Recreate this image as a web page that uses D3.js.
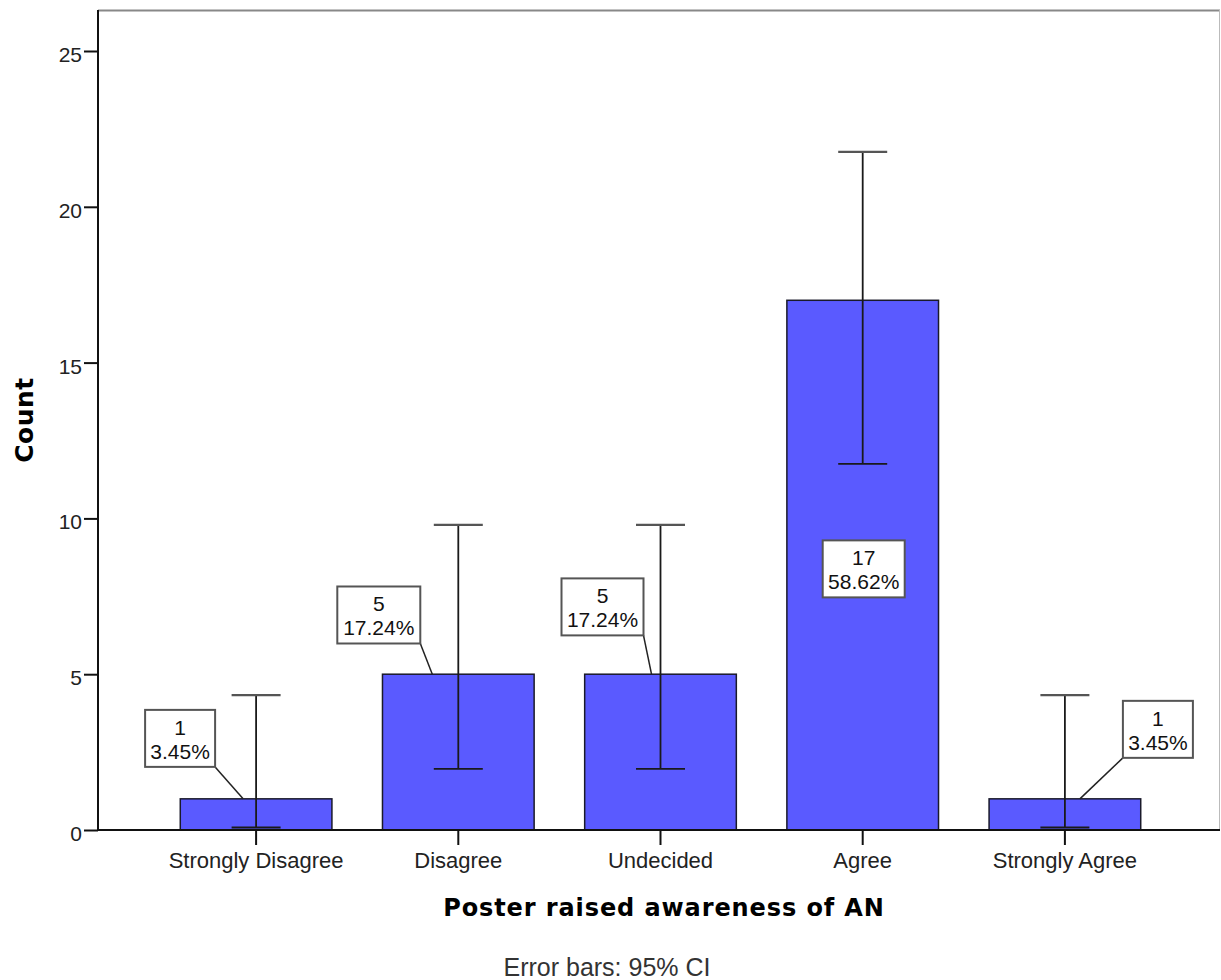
<!DOCTYPE html>
<html>
<head>
<meta charset="utf-8">
<script src="https://cdn.jsdelivr.net/npm/d3@7"></script>
<style>
  html, body { margin: 0; padding: 0; background: #fff; }
  svg { display: block; }
</style>
</head>
<body>
<svg id="chart" width="1221" height="980"></svg>
<script>
// Response categories and counts
const categories = ["Strongly Disagree", "Disagree", "Undecided", "Agree", "Strongly Agree"];
const counts = [1, 5, 5, 17, 1];
const percents = ["3.45%", "17.24%", "17.24%", "58.62%", "3.45%"];
// 95% confidence interval bounds for each count
const ciLower = [0.08, 1.96, 1.96, 11.75, 0.08];
const ciUpper = [4.33, 9.79, 9.79, 21.76, 4.33];
const yTicks = [0, 5, 10, 15, 20, 25];

// Callout placement: box centre offset from bar centre (px), box centre height (count units),
// and where the leader line meets the bar top (px from bar centre; null = no leader)
const labelDx = [-76, -79.5, -58, 1, 93];
const labelY = [2.94, 6.90, 7.16, 8.38, 3.23];
const labelW = [70, 83, 82, 82, 70];
const leaderDx = [-13, -26, -9, null, 15];

const FONT = "Arial, 'Liberation Sans', sans-serif";
const BOLD = "'DejaVu Sans', Verdana, sans-serif";

const svg = d3.select("#chart");

const plot = { left: 98, right: 1220, top: 10, bottom: 830 };

const x = d3.scaleBand()
  .domain(categories)
  .range([155, 1166])
  .paddingInner(0.25)
  .paddingOuter(0.125);

const y = d3.scaleLinear()
  .domain([0, 25])
  .range([plot.bottom, plot.bottom - 25 * 31.16]);

// Frame: top and right borders
svg.append("line")
  .attr("x1", plot.left).attr("x2", plot.right)
  .attr("y1", plot.top + 0.5).attr("y2", plot.top + 0.5)
  .attr("stroke", "#888").attr("stroke-width", 2);
svg.append("line")
  .attr("x1", plot.right - 0.5).attr("x2", plot.right - 0.5)
  .attr("y1", plot.top).attr("y2", plot.bottom)
  .attr("stroke", "#bbb").attr("stroke-width", 1);

// Bars
svg.append("g").selectAll("rect")
  .data(categories)
  .join("rect")
  .attr("x", d => x(d))
  .attr("width", x.bandwidth())
  .attr("y", (d, i) => y(counts[i]))
  .attr("height", (d, i) => y(0) - y(counts[i]))
  .attr("fill", "#5a5aff")
  .attr("stroke", "#1a1a2a")
  .attr("stroke-width", 1.5);

// Error bars
const capHalf = 24.5;
const eb = svg.append("g").attr("stroke", "#1a1a1a").attr("stroke-width", 1.8);
categories.forEach((c, i) => {
  const cx = x(c) + x.bandwidth() / 2;
  eb.append("line").attr("x1", cx).attr("x2", cx)
    .attr("y1", y(ciLower[i])).attr("y2", y(ciUpper[i]));
  eb.append("line").attr("x1", cx - capHalf).attr("x2", cx + capHalf)
    .attr("y1", y(ciUpper[i])).attr("y2", y(ciUpper[i])).attr("stroke", "#555").attr("stroke-width", 2.2);
  eb.append("line").attr("x1", cx - capHalf).attr("x2", cx + capHalf)
    .attr("y1", y(ciLower[i])).attr("y2", y(ciLower[i]));
});

// Y axis
const yAxis = d3.axisLeft(y).tickValues(yTicks).tickSize(14).tickPadding(2);
const gy = svg.append("g").attr("transform", `translate(${plot.left},0)`).call(yAxis);
gy.select(".domain").attr("stroke", "#111").attr("stroke-width", 2)
  .attr("d", `M0,${plot.top}V${plot.bottom}`);
gy.selectAll(".tick line").attr("stroke", "#111").attr("stroke-width", 2);
gy.selectAll(".tick text")
  .attr("dy", "0.5em")
  .style("font-family", FONT).style("font-size", "21px").attr("fill", "#222");

// X axis
const xAxis = d3.axisBottom(x).tickSize(15).tickPadding(7);
const gx = svg.append("g").attr("transform", `translate(0,${plot.bottom})`).call(xAxis);
gx.select(".domain").attr("stroke", "#111").attr("stroke-width", 2)
  .attr("d", `M${plot.left},0H${plot.right}`);
gx.selectAll(".tick line").attr("stroke", "#111").attr("stroke-width", 2);
gx.selectAll(".tick text")
  .style("font-family", FONT).style("font-size", "22px").attr("fill", "#222");

// Value callouts
const boxH = 57;
const lab = svg.append("g");
categories.forEach((c, i) => {
  const cx = x(c) + x.bandwidth() / 2;
  const bx = cx + labelDx[i];
  const by = y(labelY[i]);
  const w = labelW[i];
  const g = lab.append("g");
  if (leaderDx[i] !== null) {
    // leader from the box corner nearest the bar to the bar top
    const sx = labelDx[i] < 0 ? bx + w / 2 : bx - w / 2;
    g.append("line")
      .attr("x1", sx).attr("y1", by + boxH / 2)
      .attr("x2", cx + leaderDx[i]).attr("y2", y(counts[i]))
      .attr("stroke", "#222").attr("stroke-width", 1.5);
  }
  g.append("rect")
    .attr("x", bx - w / 2).attr("y", by - boxH / 2)
    .attr("width", w).attr("height", boxH)
    .attr("fill", "#fff").attr("stroke", "#555").attr("stroke-width", 2);
  g.append("text").attr("x", bx).attr("y", by - 3.5)
    .attr("text-anchor", "middle")
    .style("font-family", FONT).style("font-size", "21px").attr("fill", "#111")
    .text(counts[i]);
  g.append("text").attr("x", bx).attr("y", by + 20.5)
    .attr("text-anchor", "middle")
    .style("font-family", FONT).style("font-size", "21px").attr("fill", "#111")
    .text(percents[i]);
});

// Axis titles
svg.append("text")
  .attr("transform", "translate(33,420) rotate(-90)")
  .attr("text-anchor", "middle")
  .style("font-family", BOLD).style("font-weight", "bold").style("font-size", "25px")
  .style("letter-spacing", "0.5px")
  .attr("fill", "#000")
  .text("Count");

svg.append("text")
  .attr("x", 664).attr("y", 916)
  .attr("text-anchor", "middle")
  .style("font-family", BOLD).style("font-weight", "bold").style("font-size", "24px")
  .style("letter-spacing", "0.9px")
  .attr("fill", "#000")
  .text("Poster raised awareness of AN");

svg.append("text")
  .attr("x", 607).attr("y", 976)
  .attr("text-anchor", "middle")
  .style("font-family", FONT).style("font-size", "25px")
  .attr("fill", "#333")
  .text("Error bars: 95% CI");
</script>
</body>
</html>
